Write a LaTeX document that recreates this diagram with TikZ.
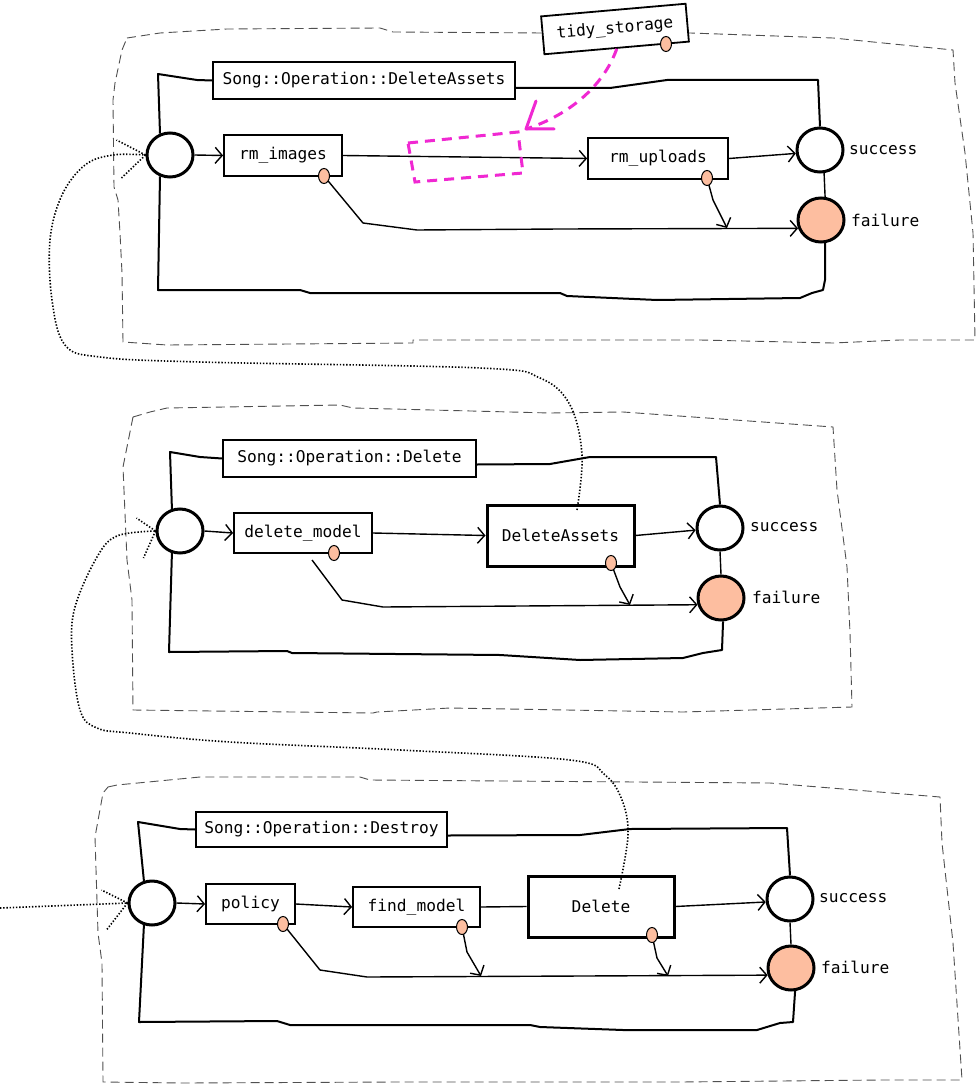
\documentclass[tikz,border=0pt]{standalone}
\usepackage{fontspec}
\setmonofont{DejaVu Sans Mono}
\usetikzlibrary{arrows.meta,shapes.geometric}
\definecolor{peach}{RGB}{253,190,160}
\definecolor{magentaline}{RGB}{240,40,210}
\definecolor{bordergray}{RGB}{80,80,80}
\pgfdeclarelayer{bg}
\pgfdeclarelayer{fg}
\pgfsetlayers{bg,main,fg}
\tikzset{
 taskbox/.style={draw, line width=1.8pt, fill=white, inner sep=0pt},
 subbox/.style={taskbox, line width=3pt},
 evt/.style={draw, ellipse, line width=3pt, fill=white, minimum width=46pt, minimum height=44pt, inner sep=0pt},
 endfail/.style={evt, fill=peach},
 port/.style={draw, ellipse, line width=1pt, fill=peach, minimum width=11pt, minimum height=15pt, inner sep=0pt},
 flow/.style={line width=1.4pt, line join=round, -{Straight Barb[length=7pt,width=16pt]}},
 track/.style={line width=1.4pt},
 frameline/.style={line width=2pt, line join=round},
 region/.style={draw=bordergray, line width=0.9pt, dash pattern=on 9pt off 5pt},
 link/.style={line width=1.6pt, dash pattern=on 1.4pt off 1.8pt},
 note/.style={draw=magentaline, line width=3pt, dash pattern=on 10pt off 7pt},
 lbl/.style={anchor=west, inner sep=0pt},
}
\begin{document}
\begin{tikzpicture}[x=1pt,y=-1pt, every node/.style={font=\ttfamily\fontsize{16.2}{18}\selectfont}]
\useasboundingbox (0,0) rectangle (976,1086);

% ---------- regions ----------
\begin{pgfonlayer}{bg}
\fill[white] (0,0) rectangle (976,1086);
\draw[region] (127,38) -- (160,33) -- (227,29) -- (380,28) -- (393,32) -- (543,33) -- (690,33) -- (833,38) -- (953,50) -- (955,83) -- (965,153) -- (973,233) -- (975,340) -- (900,340) -- (833,343) -- (700,340) -- (413,340) -- (413,343) -- (167,345) -- (123,342) -- (122,273) -- (120,233) -- (118,200) -- (114,187) -- (113,100) -- (115,83) -- (122,50) -- cycle;
\draw[region] (133,417) -- (150,412) -- (167,408) -- (340,405) -- (353,408) -- (550,413) -- (623,412) -- (833,427) -- (837,490) -- (847,567) -- (850,633) -- (852,707) -- (683,712) -- (450,708) -- (377,712) -- (373,713) -- (133,710) -- (132,600) -- (127,560) -- (123,467) -- cycle;
\draw[region] (108,787) -- (117,785) -- (200,777) -- (360,777) -- (370,780) -- (770,783) -- (940,797) -- (942,843) -- (953,943) -- (962,1080) -- (880,1080) -- (680,1082) -- (397,1082) -- (183,1083) -- (103,1082) -- (102,963) -- (98,933) -- (95,837) -- (103,793) -- cycle;
\end{pgfonlayer}

% ---------- panel 1 ----------
\node[evt] (st1) at (170,155) {};
\node[taskbox, minimum width=302pt, minimum height=37pt] (t1) at (364,80.5) {Song::Operation::DeleteAssets};
\node[taskbox, minimum width=118pt, minimum height=41pt] (rmi) at (283,155.5) {rm\_images};
\node[taskbox, minimum width=140pt, minimum height=41pt] (rmu) at (658,158.5) {rm\_uploads};
\node[evt] (s1) at (820,150) {};
\node[endfail] (f1) at (821,220) {};
\node[lbl] (s1l) at (849,150) {success};
\node[lbl] (f1l) at (851,220) {failure};
\node[taskbox, rotate=5, minimum width=145pt, minimum height=38pt] (tidy) at (615,29) {tidy\_storage};
\node[port] (p1a) at (324,176) {};
\node[port] (p1b) at (707,178) {};
\node[port] (p1c) at (666,44) {};
\coordinate (c1b) at (727,228);

\begin{pgfonlayer}{bg}
\draw[frameline] (st1.115) -- (158,74) -- (197,80) -- (t1.west);
\draw[frameline] ([yshift=-7.5pt]t1.east) -- (610,88) -- (667,80) -- (818,80) -- (s1.north);
\draw[frameline] (st1.245) -- (158,290) -- (300,290) -- (310,293) -- (560,293) -- (567,296) -- (657,300) -- (800,298) -- (812,293) -- (823,290) -- (825,280) -- (f1.-80);
\draw[track] (s1.-80) -- (f1.80);
\draw[flow] (st1.east) -- (rmi.west);
\draw[flow] (rmi.east) -- (rmu.west);
\draw[flow] (rmu.east) -- (s1.188);
\draw[flow] (p1a.center) -- (363,223) -- (417,230) -- (560,229) -- (f1.200);
\draw[flow] (p1b.center) -- (713,200) -- (c1b);
\end{pgfonlayer}

% ---------- panel 2 ----------
\node[evt] (st2) at (180,531) {};
\node[taskbox, minimum width=253pt, minimum height=37pt] (t2) at (349.5,458.5) {Song::Operation::Delete};
\node[taskbox, minimum width=138pt, minimum height=40pt] (dm) at (303,533) {delete\_model};
\node[subbox, minimum width=147pt, minimum height=61pt] (da) at (560.5,535.5) {DeleteAssets};
\node[evt] (s2) at (720,528) {};
\node[endfail] (f2) at (721,598) {};
\node[lbl] (s2l) at (750,527) {success};
\node[lbl] (f2l) at (752,597) {failure};
\node[port] (p2a) at (334,553) {};
\node[port] (p2b) at (611,563) {};
\coordinate (c2a) at (312,560);
\coordinate (c2b) at (630,605);

\begin{pgfonlayer}{bg}
\draw[frameline] (st2.110) -- (170,452) -- (200,457) -- (t2.west);
\draw[frameline] ([yshift=-6pt]t2.east) -- (550,464) -- (590,457) -- (716,457) -- (s2.north);
\draw[frameline] (st2.250) -- (169,652) -- (287,651) -- (292,653) -- (500,655) -- (580,660) -- (683,658) -- (703,653) -- (722,650) -- (f2.-85);
\draw[track] (s2.south) -- (f2.north);
\draw[flow] (st2.east) -- (dm.west);
\draw[flow] (dm.east) -- (da.west);
\draw[flow] (da.east) -- (s2.185);
\draw[flow] (c2a) -- (342,600) -- (383,607) -- (f2.196);
\draw[flow] (p2b.center) -- (620,587) -- (c2b);
\end{pgfonlayer}

% ---------- panel 3 ----------
\node[evt] (st3) at (152,903) {};
\node[taskbox, minimum width=251pt, minimum height=35pt] (t3) at (321.5,829.5) {Song::Operation::Destroy};
\node[taskbox, minimum width=89pt, minimum height=40pt] (pol) at (250.5,904) {policy};
\node[taskbox, minimum width=127pt, minimum height=40pt] (fm) at (416.5,907) {find\_model};
\node[subbox, minimum width=146pt, minimum height=61pt] (del) at (601,906.5) {Delete};
\node[evt] (s3) at (790,899) {};
\node[endfail] (f3) at (791,968) {};
\node[lbl] (s3l) at (819,898) {success};
\node[lbl] (f3l) at (821,967) {failure};
\node[port] (p3a) at (283,924) {};
\node[port] (p3b) at (462,927) {};
\node[port] (p3c) at (652,935) {};
\coordinate (c3b) at (481,976);
\coordinate (c3c) at (668,976);

\begin{pgfonlayer}{bg}
\draw[frameline] (st3.110) -- (138,822) -- (180,829) -- (t3.west);
\draw[frameline] ([yshift=-6pt]t3.east) -- (580,835) -- (630,829) -- (787,828) -- (s3.north);
\draw[frameline] (st3.250) -- (139,1022) -- (277,1021) -- (290,1025) -- (530,1025) -- (540,1027) -- (623,1030) -- (757,1030) -- (780,1023) -- (793,1022) -- (f3.-80);
\draw[track] (s3.south) -- (f3.north);
\draw[flow] (st3.east) -- (pol.west);
\draw[flow] (pol.east) -- (fm.west);
\draw[track] (fm.east) -- (del.west);
\draw[flow] (del.east) -- (s3.187);
\draw[flow] (p3a.center) -- (320,970) -- (367,977) -- (f3.197);
\draw[flow] (p3b.center) -- (467,952) -- (c3b);
\draw[flow] (p3c.center) -- (657,958) -- (c3c);
\end{pgfonlayer}

% ---------- links ----------
\coordinate (d1s) at (577,510);
\coordinate (d2s) at (619,889);
\coordinate (d3s) at (0,908);
\coordinate (mtip) at (526,129);
\begin{pgfonlayer}{fg}
\draw[link] plot[smooth, tension=0.6] coordinates {(d1s) (582,455) (570,405) (540,378) (480,368) (200,362) (100,357) (65,345) (52,300) (50,240) (62,195) (85,165) (113,155) (st1.west)};
\draw[link] (st1.west) -- ++(-29,-15);
\draw[link] (st1.west) -- ++(-24,23);
\draw[link] plot[smooth, tension=0.6] coordinates {(d2s) (628,835) (622,800) (605,775) (570,760) (400,750) (230,742) (130,733) (97,728) (80,710) (72,650) (75,607) (97,557) (117,536) (st2.west)};
\draw[link] (st2.west) -- ++(-19,-13);
\draw[link] (st2.west) -- ++(-12,27);
\draw[link] (d3s) -- (st3.west);
\draw[link] (st3.west) -- ++(-26,-13);
\draw[link] (st3.west) -- ++(-21,27);
% magenta annotation
\draw[note] (408,143) -- (518,132) -- (523,173) -- (415,182) -- cycle;
\draw[note] (tidy.south) .. controls (604,85) and (570,115) .. (mtip);
\draw[magentaline, line width=3pt, line cap=round, line join=round] ([shift={(10,-28)}]mtip) -- (mtip) -- ([shift={(28,0)}]mtip);
\end{pgfonlayer}
\end{tikzpicture}
\end{document}
